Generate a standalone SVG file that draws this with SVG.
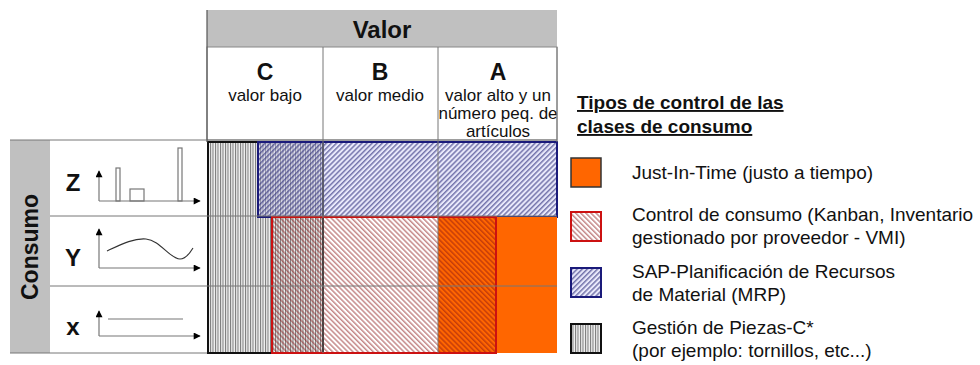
<svg xmlns="http://www.w3.org/2000/svg" width="980" height="365" viewBox="0 0 980 365">
<style>
text{font-family:"Liberation Sans",Arial,sans-serif;fill:#111}
.b{font-weight:bold}
.hd{font-size:17px;text-anchor:middle}
.big{font-size:23px;font-weight:bold;text-anchor:middle}
.rl{font-size:24px;font-weight:bold;text-anchor:middle}
.lg{font-size:19px}
.grid{stroke:#777;stroke-width:1;fill:none}
.ax{stroke:#777;stroke-width:1.2;fill:none}
.bar{stroke:#777;stroke-width:1.2;fill:#fff}
</style>
<defs>
<marker id="ah" viewBox="0 0 10 10" refX="9" refY="5" markerWidth="12" markerHeight="7" markerUnits="userSpaceOnUse" orient="auto">
<path d="M0,0 L10,5 L0,10 z" fill="#000"/>
</marker>
<pattern id="pv" width="2.5" height="10" patternUnits="userSpaceOnUse">
<rect width="2.5" height="10" fill="#f0f0f0"/>
<rect x="0" y="0" width="1" height="10" fill="#777"/>
</pattern>
<pattern id="pb" width="3.6" height="6" patternUnits="userSpaceOnUse" patternTransform="rotate(45)">
<rect x="0" y="0" width="1.5" height="6" fill="rgba(40,40,120,0.6)"/>
</pattern>
<pattern id="pr" width="3.6" height="6" patternUnits="userSpaceOnUse" patternTransform="rotate(-45)">
<rect x="0" y="0" width="1.5" height="6" fill="rgba(140,20,20,0.5)"/>
</pattern>
</defs>

<g id="header">
<rect x="207" y="10" width="350" height="37" fill="#c0c0c0"/>
<text x="382" y="38" class="b" font-size="24" text-anchor="middle">Valor</text>
<rect x="207" y="47" width="350" height="93" fill="#fff" stroke="#888" stroke-width="1"/>
</g>
<g id="col-C">
<text x="265" y="80" class="big">C</text>
<text x="265" y="101" class="hd">valor bajo</text>
</g>
<g id="col-B">
<text x="380" y="80" class="big">B</text>
<text x="380" y="101" class="hd">valor medio</text>
</g>
<g id="col-A">
<text x="498" y="80" class="big">A</text>
<text x="498" y="101" class="hd">valor alto y un</text>
<text x="498" y="119" class="hd">número peq. de</text>
<text x="498" y="137" class="hd">artículos</text>
</g>

<g id="consumo">
<rect x="10" y="140" width="40" height="213" fill="#c0c0c0"/>
<text transform="translate(38,247) rotate(-90)" class="b" font-size="23" text-anchor="middle">Consumo</text>
<rect x="50" y="140" width="157" height="213" fill="#fff"/>
</g>
<g id="row-Z">
<text x="73" y="191" class="rl">Z</text>
<rect x="116" y="168" width="4" height="33" class="bar"/>
<rect x="130" y="189" width="14" height="12" class="bar"/>
<rect x="178" y="148" width="4" height="53" class="bar"/>
<line x1="99" y1="201" x2="99" y2="171" class="ax" marker-end="url(#ah)"/>
<line x1="99" y1="201" x2="200" y2="201" class="ax" marker-end="url(#ah)"/>
</g>
<g id="row-Y">
<text x="73" y="266" class="rl">Y</text>
<path d="M107,251 C122,244 134,238 146,239 C160,240 170,259 180,259 C186,259 190,253 193,248" fill="none" stroke="#333" stroke-width="1.1"/>
<line x1="99" y1="268" x2="99" y2="229" class="ax" marker-end="url(#ah)"/>
<line x1="99" y1="268" x2="200" y2="268" class="ax" marker-end="url(#ah)"/>
</g>
<g id="row-X">
<text x="73" y="335" class="rl">x</text>
<line x1="108" y1="319" x2="183" y2="319" stroke="#777" stroke-width="1.2"/>
<line x1="99" y1="336" x2="99" y2="311" class="ax" marker-end="url(#ah)"/>
<line x1="99" y1="336" x2="200" y2="336" class="ax" marker-end="url(#ah)"/>
</g>

<g id="region-C-parts">
<rect x="208" y="142" width="115" height="211" fill="url(#pv)" stroke="#111" stroke-width="2"/>
</g>
<g id="region-MRP">
<rect x="258" y="142" width="299" height="75" fill="rgba(190,190,240,0.35)"/>
<rect x="258" y="142" width="299" height="75" fill="url(#pb)" stroke="#1a1a7a" stroke-width="2"/>
</g>
<g id="region-JIT">
<rect x="438" y="217" width="119" height="136" fill="#ff6600"/>
</g>
<g id="region-consumo">
<rect x="272" y="217" width="224" height="136" fill="url(#pr)" stroke="#cc1111" stroke-width="2"/>
</g>

<g id="grid">
<line x1="10" y1="140" x2="557" y2="140" class="grid"/>
<line x1="50" y1="216" x2="557" y2="216" class="grid"/>
<line x1="50" y1="286" x2="557" y2="286" class="grid"/>
<line x1="10" y1="353" x2="207" y2="353" class="grid"/>
<line x1="323" y1="47" x2="323" y2="353" class="grid"/>
<line x1="438" y1="47" x2="438" y2="353" class="grid"/>
<line x1="207" y1="10" x2="207" y2="142" stroke="#555" stroke-width="1.2"/>
<line x1="557" y1="47" x2="557" y2="142" class="grid"/>
</g>

<g id="legend-title">
<text x="577" y="109" class="b lg" text-decoration="underline">Tipos de control de las</text>
<text x="577" y="133" class="b lg" text-decoration="underline">clases de consumo</text>
</g>
<g id="legend-jit">
<rect x="571" y="158" width="30" height="29" fill="#ff6600" stroke="#333" stroke-width="1.5"/>
<text x="632" y="179" class="lg">Just-In-Time (justo a tiempo)</text>
</g>
<g id="legend-consumo">
<rect x="571" y="212" width="30" height="29" fill="url(#pr)" stroke="#cc1111" stroke-width="2"/>
<text x="632" y="221" class="lg">Control de consumo (Kanban, Inventario</text>
<text x="632" y="244" class="lg">gestionado por proveedor - VMI)</text>
</g>
<g id="legend-mrp">
<rect x="571" y="268" width="30" height="29" fill="rgba(190,190,240,0.35)"/>
<rect x="571" y="268" width="30" height="29" fill="url(#pb)" stroke="#1a1a7a" stroke-width="2"/>
<text x="632" y="278" class="lg">SAP-Planificación de Recursos</text>
<text x="632" y="301" class="lg">de Material (MRP)</text>
</g>
<g id="legend-cparts">
<rect x="571" y="324" width="30" height="29" fill="url(#pv)" stroke="#111" stroke-width="2"/>
<text x="632" y="334" class="lg">Gestión de Piezas-C*</text>
<text x="632" y="357" class="lg">(por ejemplo: tornillos, etc...)</text>
</g>
</svg>
